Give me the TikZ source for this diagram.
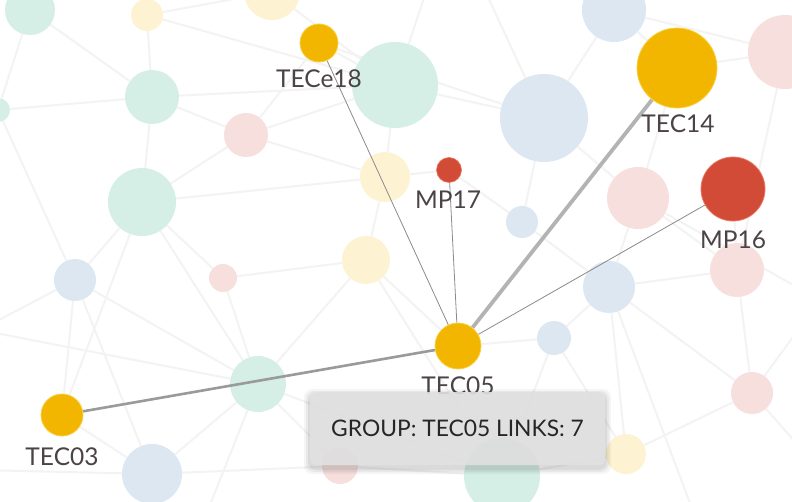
\documentclass[tikz,border=0pt]{standalone}
\usepackage{fontspec}
\setmainfont{Lato}
\definecolor{gold}{HTML}{F2B600}
\definecolor{goldrim}{HTML}{F8D040}
\definecolor{red}{HTML}{D24B36}
\definecolor{redrim}{HTML}{E87A66}
\definecolor{fteal}{HTML}{D5EEE6}
\definecolor{fblue}{HTML}{DDE7F1}
\definecolor{fpink}{HTML}{F6DFDD}
\definecolor{fyellow}{HTML}{FDF2D2}
\definecolor{bgline}{HTML}{F3F3F3}
\definecolor{lbl}{HTML}{4B4345}
\definecolor{edge}{HTML}{9A9A9A}
\definecolor{tipfill}{HTML}{E1E1E1}
\pgfdeclarelayer{bglinks}
\pgfdeclarelayer{bgnodes}
\pgfdeclarelayer{fglinks}
\pgfsetlayers{bglinks,bgnodes,fglinks,main}
\begin{document}
\begin{tikzpicture}[x=1pt,y=-1pt,
  dot/.style={circle,inner sep=0pt,minimum size=#1},
  bgedge/.style={draw=bgline,line width=2pt},
  fgedge/.style={draw=edge!90!black,line width=0.8pt},
  heavyedge/.style={draw=edge,line width=#1},
  goldnode/.style={dot=#1,fill=gold,draw=goldrim,line width=0.8pt},
  rednode/.style={dot=#1,fill=red,draw=redrim,line width=0.8pt},
  nodelabel/.style={text=lbl,inner sep=0pt,font=\fontsize{24.5}{26}\selectfont},
  tipbox/.style={rounded corners=5pt,fill=tipfill,fill opacity=0.9,draw=none},
  tiptext/.style={text=black!85,inner sep=0pt,font=\fontsize{22.8}{26}\selectfont}]
\useasboundingbox (0,0) rectangle (792,502);
\begin{pgfonlayer}{bglinks}
\fill[white] (0,0) rectangle (792,502);
\end{pgfonlayer}
\begin{pgfonlayer}{bgnodes}
\node[dot=50pt,fill=fteal] (b1) at (30,10) {};
\node[dot=32pt,fill=fyellow] (b2) at (147,15) {};
\node[dot=56pt,fill=fyellow] (b3) at (272,-8) {};
\node[dot=54pt,fill=fteal] (b4) at (152,97) {};
\node[dot=44pt,fill=fpink] (b5) at (246,135) {};
\node[dot=68pt,fill=fteal] (b6) at (142,202) {};
\node[dot=24pt,fill=fteal] (b7) at (-2,110) {};
\node[dot=86pt,fill=fteal] (b8) at (395,85) {};
\node[dot=50pt,fill=fyellow] (b9) at (385,177) {};
\node[dot=48pt,fill=fyellow] (b10) at (366,260) {};
\node[dot=64pt,fill=fblue] (b11) at (614,10) {};
\node[dot=88pt,fill=fblue] (b12) at (544,118) {};
\node[dot=74pt,fill=fpink] (b13) at (785,52) {};
\node[dot=62pt,fill=fpink] (b14) at (638,198) {};
\node[dot=32pt,fill=fblue] (b15) at (522,222) {};
\node[dot=42pt,fill=fblue] (b16) at (75,280) {};
\node[dot=28pt,fill=fpink] (b17) at (223,278) {};
\node[dot=56pt,fill=fteal] (b18) at (258,384) {};
\node[dot=60pt,fill=fblue] (b19) at (152,474) {};
\node[dot=36pt,fill=fpink] (b20) at (340,466) {};
\node[dot=52pt,fill=fblue] (b21) at (609,287) {};
\node[dot=34pt,fill=fblue] (b22) at (554,338) {};
\node[dot=54pt,fill=fpink] (b23) at (737,270) {};
\node[dot=42pt,fill=fpink] (b24) at (752,393) {};
\node[dot=40pt,fill=fyellow] (b25) at (626,454) {};
\node[dot=76pt,fill=fteal] (b26) at (502,476) {};
\end{pgfonlayer}
% foreground nodes
\node[goldnode=46pt] (tec05) at (458,346) {};
\node[goldnode=42pt] (tec03) at (62,415) {};
\node[goldnode=80pt] (tec14) at (677,68) {};
\node[rednode=64pt] (mp16) at (733,189) {};
\node[rednode=25pt,line width=0.6pt] (mp17) at (449,170) {};
\node[goldnode=38pt] (tec18) at (319,43) {};
% off-canvas ends of faint links
\coordinate (o1) at (-20,330);
\coordinate (o2) at (820,300);
\coordinate (o3) at (430,-20);
\coordinate (o4) at (700,530);
\coordinate (o5) at (-20,470);
\coordinate (o6) at (820,470);
\coordinate (o7) at (480,-20);
\coordinate (o8) at (200,530);
\begin{pgfonlayer}{bglinks}
\foreach \a/\b in {b1/b4,b2/b4,b4/b6,b4/b5,b4/b8,b2/b8,b6/b16,b6/b17,b6/b18,b6/b5,b6/b9,
  b16/b18,b17/b18,b18/b10,b18/b19,b18/b20,b10/b9,b10/tec05,b9/b8,b8/b12,b12/b11,b12/b14,
  b12/b15,b11/b13,b14/b23,b23/b24,b21/b23,b21/b22,b21/b25,b22/tec05,b24/b25,b13/b23,
  b15/b21,b26/b25,b26/b18,tec03/b16,tec03/b19,tec03/b6,b7/b4,b7/b16,b3/b8,b3/b2,b20/b19,
  b14/b21,b24/b21,b5/b8,b5/b9,b1/b7,b16/b19,b17/b10,b14/tec14,b13/tec14,b11/tec14,b23/mp16,
  b12/tec18,b8/tec18,b22/b26,b15/mp17,b9/mp17,o1/b18,b16/o1,b14/o2,b24/o2,b8/o3,b21/o4,
  b19/o5,b24/o6,b12/o7,b18/o8,b26/b20,b10/b26,b22/b25,b5/tec18}
  \draw[bgedge] (\a) -- (\b);
\end{pgfonlayer}
\begin{pgfonlayer}{fglinks}
\draw[heavyedge=3.8pt,draw=edge!75] (tec05) -- (tec14);
\draw[heavyedge=2.6pt] (tec05) -- (tec03);
\draw[fgedge] (tec05) -- (mp16);
\draw[fgedge] (tec05) -- (mp17);
\draw[fgedge] (tec05) -- (tec18);
\end{pgfonlayer}
% labels
\node[nodelabel] (l05) at (458,386) {TEC05};
\node[nodelabel] (l03) at (62,457) {TEC03};
\node[nodelabel] (l14) at (678,124) {TEC14};
\node[nodelabel] (l16) at (733,240) {MP16};
\node[nodelabel] (l17) at (448,200) {MP17};
\node[nodelabel] (l18) at (319,79) {TECe18};
% tooltip with soft shadow
\foreach \s/\o in {6/0.04,4/0.05,2/0.06}
  \fill[black,opacity=\o,rounded corners=8pt] (310-\s,392-\s+3) rectangle (605+\s,465+\s+3);
\node[tipbox,minimum width=295pt,minimum height=73pt,inner sep=0pt] (tip) at (457.5,428.5) {};
\node[tiptext] (tiptxt) at (tip.center) {GROUP: TEC05 LINKS: 7};
\end{tikzpicture}
\end{document}
